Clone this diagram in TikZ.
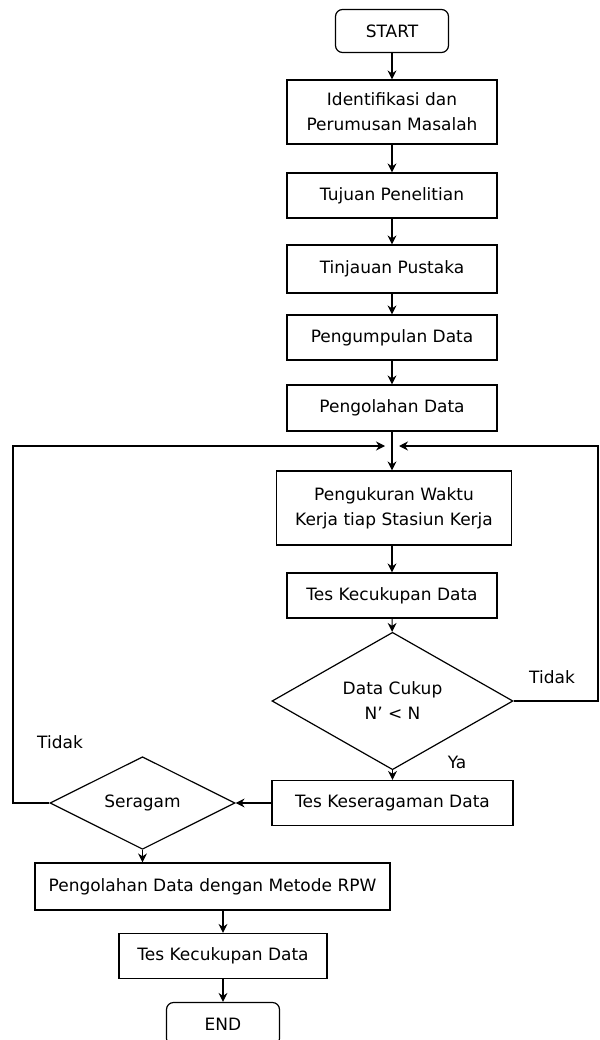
\documentclass[tikz,border=0pt]{standalone}
\usepackage{fontspec}
\setmainfont{DejaVu Sans}
\usetikzlibrary{shapes.geometric}
\usetikzlibrary{arrows.meta}

\tikzset{
  box/.style={draw, line width=1.2pt, minimum width=210pt, minimum height=45pt, align=center, inner sep=2pt},
  term/.style={box, rounded corners=7pt, minimum width=113pt, minimum height=43pt},
  cond/.style={draw, diamond, line width=1.2pt, align=center, inner sep=0pt},
  flow/.style={-{Stealth[length=9pt,width=9pt,inset=3pt]}, line width=1.2pt}
}

\begin{document}
\begin{tikzpicture}[x=1pt,y=-1pt,font=\fontsize{17}{25}\selectfont]
\useasboundingbox (0,0) rectangle (599,1040);
  \node [term] (start) at (392,31) {START};
  \node [box, minimum height=64pt] (idn) at (392,112) {Identifikasi dan\\Perumusan Masalah};
  \node [box] (tujuan) at (392,195.5) {Tujuan Penelitian};
  \node [box, minimum height=48pt] (tinjauan) at (392,269) {Tinjauan Pustaka};
  \node [box] (kumpul) at (392,337.5) {Pengumpulan Data};
  \node [box, minimum height=46pt] (olah) at (392,408) {Pengolahan Data};
  \node [box, minimum width=235pt, minimum height=74pt] (ukur) at (394,508) {Pengukuran Waktu\\Kerja tiap Stasiun Kerja};
  \node [box] (tes1) at (392,595.5) {Tes Kecukupan Data};
  \node [cond, minimum width=241pt, minimum height=112pt] (cukup) at (392.5,701) {Data Cukup\\N’ < N};
  \node [box, minimum width=241pt] (tesser) at (392.5,803) {Tes Keseragaman Data};
  \node [cond, minimum width=185pt, minimum height=76pt] (seragam) at (142.5,803) {Seragam};
  \node [box, minimum width=355pt, minimum height=47pt] (rpw) at (212.5,886.5) {Pengolahan Data dengan Metode RPW};
  \node [box, minimum width=208pt] (tes2) at (223,956) {Tes Kecukupan Data};
  \node [term] (stop) at (223,1024) {END};

  \node (tidaka) at (552,677) {Tidak};
  \node (ya) at (457,762) {Ya};
  \node (tidakb) at (60,742) {Tidak};

  \coordinate (kiri) at (13,446);
  \coordinate (kanan) at (598,446);

  \draw[flow] (start) -- (idn);
  \draw[flow] (idn) -- (tujuan);
  \draw[flow] (tujuan) -- (tinjauan);
  \draw[flow] (tinjauan) -- (kumpul);
  \draw[flow] (kumpul) -- (olah);
  \draw[flow] (olah.south) -- (olah.south |- ukur.north);
  \draw[flow] (tes1.north |- ukur.south) -- (tes1.north);
  \draw[flow] (tes1) -- (cukup);
  \draw[flow] (cukup.south) -- (cukup.south |- tesser.north);
  \draw[flow] (tesser.west) -- (seragam.east);
  \draw[flow] (seragam.south) -- (seragam.south |- rpw.north);
  \draw[flow] (tes2.north |- rpw.south) -- (tes2.north);
  \draw[flow] (tes2) -- (stop);

  % kembali ke pengukuran
  \draw[flow] (seragam.west) -- (kiri |- seragam.west) -- (kiri) -- ([xshift=-7pt]olah.south |- kiri);
  \draw[flow] (cukup.east) -- (kanan |- cukup.east) -- (kanan) -- ([xshift=7pt]olah.south |- kanan);
\end{tikzpicture}
\end{document}
